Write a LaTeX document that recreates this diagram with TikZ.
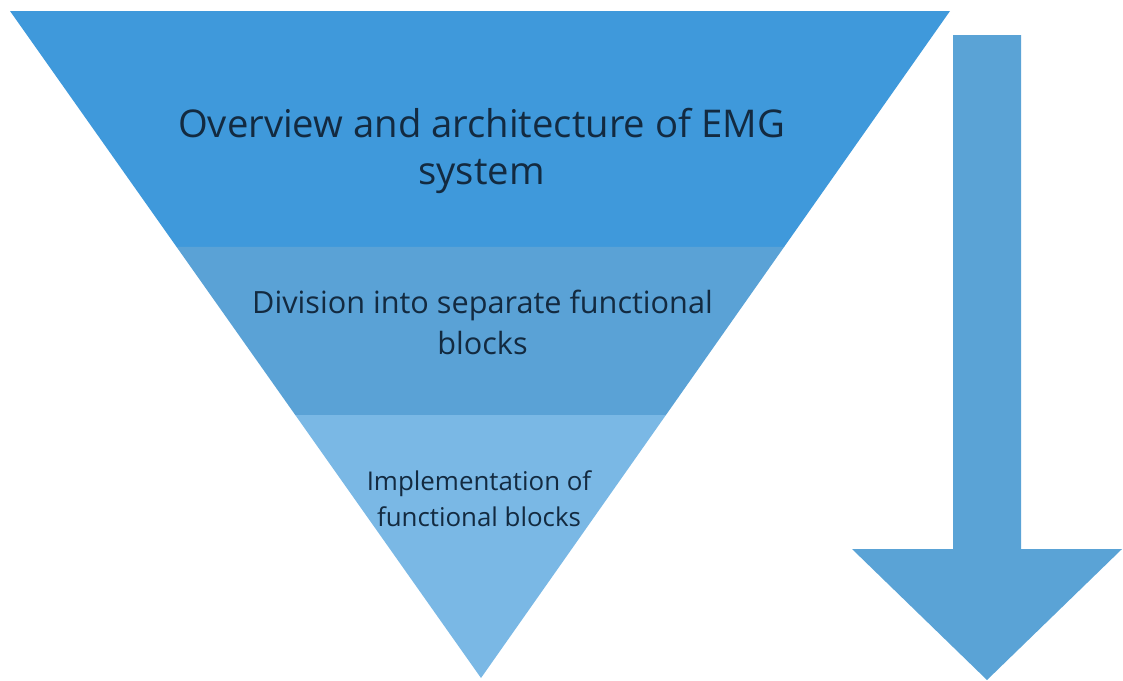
\documentclass[tikz,border=0pt]{standalone}
\usepackage{fontspec}
\setmainfont{Open Sans}
\usetikzlibrary{calc}
\definecolor{bandtop}{HTML}{3F99DB}
\definecolor{bandmid}{HTML}{5AA2D6}
\definecolor{bandlow}{HTML}{7AB8E5}
\definecolor{arrowblue}{HTML}{5AA3D6}
\definecolor{inkblue}{HTML}{132A40}
\tikzset{
  bandtext/.style={text=inkblue,align=center,inner sep=0pt}
}
\begin{document}
\begin{tikzpicture}[x=0.025cm,y=-0.025cm]
	\useasboundingbox (0,0) rectangle (1123,680);
	\coordinate (tl) at (10,11);
	\coordinate (tr) at (950,11);
	\coordinate (apex) at (481,678);
	\coordinate (l1) at ($(tl)!0.3538!(apex)$);
	\coordinate (r1) at ($(tr)!0.3538!(apex)$);
	\coordinate (l2) at ($(tl)!0.6057!(apex)$);
	\coordinate (r2) at ($(tr)!0.6057!(apex)$);
	\fill[bandtop] (tl) -- (tr) -- (r1) -- (l1) -- cycle;
	\fill[bandmid] (l1) -- (r1) -- (r2) -- (l2) -- cycle;
	\fill[bandlow] (l2) -- (r2) -- (apex) -- cycle;
	\fill[arrowblue] (953,35) -- (1021,35) -- (1021,549) -- (1122,549)
	      -- (987,680) -- (852,549) -- (953,549) -- cycle;
	\node[bandtext,font=\fontsize{27.2}{33.5}\selectfont] (overview) at (481.5,151)
	      {Overview and architecture of EMG\\system};
	\node[bandtext,font=\fontsize{21.8}{29}\selectfont] (division) at (482.5,322.5)
	      {Division into separate functional\\blocks};
	\node[bandtext,font=\fontsize{18.4}{25.5}\selectfont] (implement) at (479,498.5)
	      {Implementation of\\functional blocks};
\end{tikzpicture}
\end{document}
